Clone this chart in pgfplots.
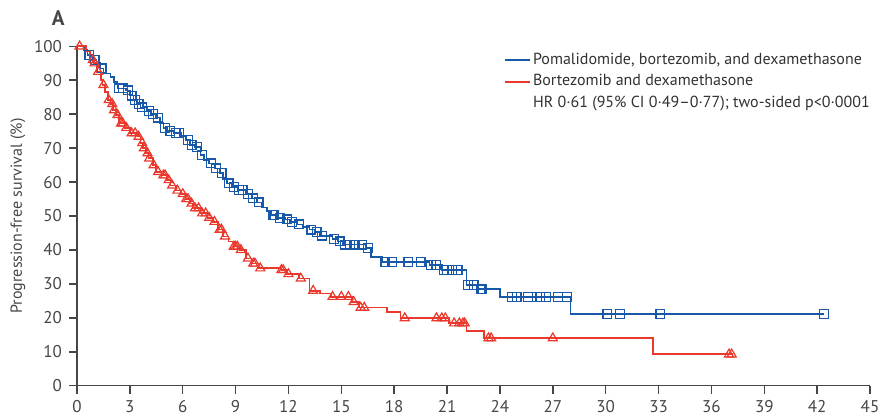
\documentclass[border=0pt]{standalone}
\usepackage{fontspec}
\setmainfont{PT Sans}
\usepackage{pgfplots}
\pgfplotsset{compat=1.18}
\definecolor{pvdblue}{RGB}{24,88,168}
\definecolor{vdred}{RGB}{234,56,44}
\definecolor{axgray}{RGB}{70,70,70}
\definecolor{txtgray}{RGB}{50,50,50}
\begin{document}
\begin{tikzpicture}
\begin{axis}[
 name=ax,
 scale only axis, width=396.5pt, height=169.7pt,
 xmin=0,xmax=45,ymin=0,ymax=100,
 axis lines=left, axis line style={-, draw=axgray, line width=0.75pt},
 xtick={0,3,...,45}, ytick={0,10,...,100},
 tick align=outside, major tick length=4pt,
 tick style={draw=axgray, line width=0.75pt},
 /pgf/number format/assume math mode=true,
 ticklabel style={font=\fontsize{8.5}{9}\selectfont, text=axgray},
 ylabel={Progression-free survival (\%)},
 ylabel style={font=\fontsize{8}{9}\selectfont, text=axgray, at={(axis description cs:-0.0744,0.5)}, anchor=center},
 clip=false,
 legend style={at={(axis cs:24.2,98.7)}, anchor=north west, draw=none, fill=none,
   inner sep=0pt, font=\fontsize{8}{9}\selectfont, text=txtgray, row sep=1.6pt,
   nodes={inner sep=1pt}, cells={anchor=west}},
 legend image code/.code={\draw[#1, line width=1.1pt] (0pt,0pt) -- (12.5pt,0pt);},
]
% PVd step curve
\addplot[const plot, pvdblue, line width=0.85pt] coordinates {
(0,100)(0.4,99)(0.6,97.5)(0.9,96)(1.1,95)(1.3,93.5)(1.5,92)(1.9,91)(2.1,89.5)(2.3,87.6)
(2.8,87)(3.0,85.5)(3.2,84.2)(3.4,83)(3.6,82)(4.0,81)(4.2,80)(4.5,79)(4.7,77.5)(4.9,76)
(5.1,75)(5.5,74.4)(5.9,73.5)(6.2,72.4)(6.4,71)(6.7,70.4)(7.0,68)(7.2,66.5)(7.5,65.5)(7.8,64)
(8.1,62.6)(8.3,61)(8.5,59.6)(8.8,58.5)(9.1,57.7)(9.6,56.5)(9.9,55.2)(10.2,54)(10.5,52.5)(10.8,51.3)
(11.0,50.3)(11.4,49.5)(11.8,49)(12.1,48.3)(12.5,47.5)(12.8,46.8)(13.2,46)(13.5,45.2)(13.8,44.2)
(14.5,43.2)(14.8,42.5)(15.1,41.6)(16.4,40.5)(16.7,38)(17.3,36.5)(20.0,35.6)(20.7,34.1)(22.1,29.6)
(22.7,28.4)(24.0,26.2)(28.0,21.1)(42.4,21.1)};
\addlegendentry{Pomalidomide, bortezomib, and dexamethasone}
\addplot[only marks, forget plot, pvdblue, mark=square, mark size=2.2pt, mark options={line width=0.6pt, fill=none}] coordinates {
(0.7,97.5)(1.0,96)(1.4,93.5)(2.4,87.6)(2.6,87.6)(2.9,87)(3.1,85.5)(3.3,84.2)(3.5,83)(3.7,82)
(4.1,81)(4.3,80)(4.6,79)(5.0,76)(5.3,75)(5.6,74.4)(5.8,74.4)(6.3,72.4)(6.5,71)(6.8,70.4)
(7.1,68)(7.6,65.5)(7.9,64)(8.2,62.6)(8.6,59.6)(8.9,58.5)(9.2,57.7)(9.4,57.7)(9.7,56.5)(10.0,55.2)
(10.3,54)(11.1,50.3)(11.2,50.3)(11.5,49.5)(11.9,49)(12.2,48.3)(12.6,47.5)(13.3,46)(13.6,45.2)(13.9,44.2)
(14.6,43.2)(14.9,42.5)(15.2,41.6)(15.5,41.6)(15.8,41.6)(16.2,41.6)(16.5,40.5)(17.5,36.5)(17.9,36.5)(18.8,36.5)
(19.5,36.5)(20.1,35.6)(20.4,35.6)(20.8,34.1)(21.0,34.1)(21.3,34.1)(21.6,34.1)(22.2,29.6)(22.5,29.6)(22.9,28.4)
(23.0,28.4)(24.7,26.2)(24.95,26.2)(25.6,26.2)(26.1,26.2)(26.3,26.2)(26.6,26.2)(27.3,26.2)(27.8,26.2)
(30.1,21.1)(30.8,21.1)(33.1,21.1)(42.4,21.1)};
% Vd step curve
\addplot[const plot, vdred, line width=0.85pt] coordinates {
(0,100)(0.5,98.5)(0.75,96)(0.95,95)(1.15,92.5)(1.35,90)(1.45,88.6)(1.6,86.5)(1.75,84.2)(1.9,83)
(2.05,81.2)(2.2,79.8)(2.4,77.3)(2.7,76)(3.0,74.4)(3.45,73.4)(3.6,71.5)(3.75,70)(3.9,68.5)(4.05,67)
(4.3,65)(4.5,63)(4.8,62)(5.1,60.6)(5.3,59)(5.6,57.5)(5.9,56.5)(6.15,55)(6.4,53.7)(6.6,52.3)
(7.0,50.8)(7.4,49.5)(7.7,48.3)(8.0,46)(8.3,44)(8.6,42.5)(8.9,41)(9.25,40)(9.6,37.5)(9.9,36)
(10.3,34.6)(11.6,34.1)(11.9,32.9)(12.6,31.6)(13.2,28)(13.8,27.2)(14.4,26.2)(15.6,24.7)(16.0,23)
(17.6,21.8)(18.35,19.9)(21.1,18.4)(22.1,16.2)(23.1,14.0)(32.7,9.25)(37.2,9.25)};
\addlegendentry{Bortezomib and dexamethasone}
\addplot[only marks, forget plot, vdred, mark=triangle, mark size=2.6pt, mark options={line width=0.6pt, fill=none}] coordinates {
(0.15,100)(0.9,96)(1.0,95)(1.2,92.5)(1.5,88.6)(1.8,84.2)(2.0,83)(2.1,81.2)(2.3,79.8)(2.5,77.3)
(2.6,77.3)(2.8,76)(3.1,74.4)(3.3,74.4)(3.5,73.4)(3.7,71.5)(3.8,70)(4.0,68.5)(4.1,67)(4.35,65)
(4.6,63)(4.9,62)(5.0,62)(5.2,60.6)(5.4,59)(5.7,57.5)(6.0,56.5)(6.2,55)(6.3,55)(6.5,53.7)
(6.7,52.3)(6.9,52.3)(7.1,50.8)(7.3,50.8)(7.5,49.5)(7.8,48.3)(8.1,46)(8.2,46)(8.4,44)(8.9,41)
(9.0,41)(9.1,41)(9.3,40)(9.7,37.5)(10.0,36)(10.1,36)(10.4,34.6)(11.6,34.1)(11.7,34.1)(12.0,32.9)
(12.7,31.6)(13.4,28)(14.5,26.2)(15.0,26.2)(15.4,26.2)(15.7,24.7)(16.1,23)(16.3,23)(18.6,19.9)(20.4,19.9)
(20.7,19.9)(20.9,19.9)(21.4,18.4)(21.7,18.4)(21.9,18.4)(22.0,18.4)(23.35,14.0)(23.5,14.0)(27.0,14.0)
(37.0,9.25)(37.15,9.25)};
\addlegendimage{empty legend}
\addlegendentry{HR 0·61 (95\% CI 0·49–0·77); two-sided p<0·0001}
\node[font=\fontsize{10.5}{11}\selectfont\bfseries, text=axgray] at (axis cs:-1.06,108.25) {A};
\end{axis}
\pgfresetboundingbox
\useasboundingbox ([shift={(-38.5pt,-16.15pt)}]ax.south west) rectangle ([shift={(5.5pt,23.15pt)}]ax.north east);
\end{tikzpicture}
\end{document}
